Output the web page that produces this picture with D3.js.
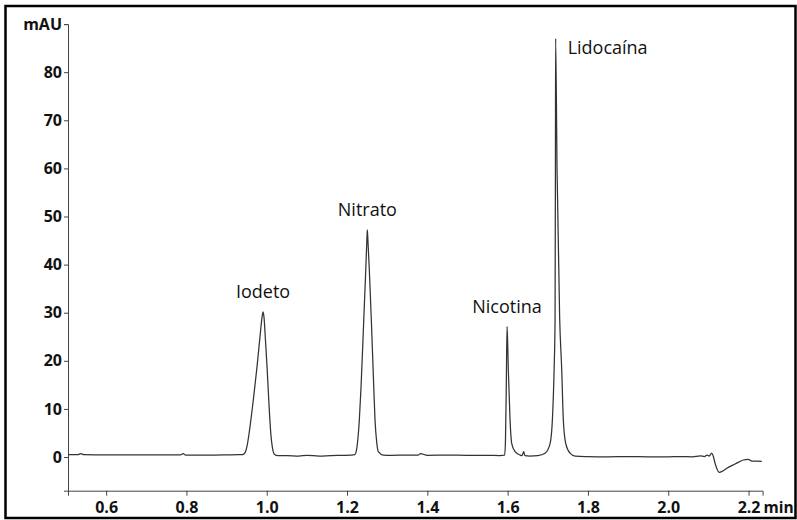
<!DOCTYPE html>
<html>
<head>
<meta charset="utf-8">
<script src="https://cdn.jsdelivr.net/npm/d3@7"></script>
<style>
  html, body { margin: 0; padding: 0; background: #fff; }
  svg { display: block; }
  .tick text { font-family: "Open Sans", "DejaVu Sans", sans-serif; font-weight: 700; font-size: 16px; fill: #111; }
  .peak-label { font-family: "Open Sans", "DejaVu Sans", sans-serif; font-size: 18px; fill: #111; }
</style>
</head>
<body>
<svg id="chart" width="797" height="520"></svg>
<script>
// Retention time (min) and detector signal (mAU) of the chromatogram trace
const time = [
  0.505, 0.530, 0.537, 0.544, 0.600, 0.700, 0.785, 0.792, 0.798, 0.850, 0.900, 0.930,
  0.940, 0.946, 0.951, 0.956, 0.9666, 0.9758, 0.984, 0.9885, 0.9908, 0.9935, 0.9958,
  1.0007, 1.005, 1.010, 1.014, 1.019, 1.028,
  1.050, 1.080, 1.100, 1.130, 1.160, 1.190, 1.210,
  1.2195, 1.2224, 1.2306, 1.2349, 1.2416, 1.2466, 1.2495, 1.2506, 1.2520, 1.2555,
  1.2605, 1.2665, 1.2697, 1.2740, 1.278, 1.2904,
  1.310, 1.350, 1.377, 1.383, 1.400, 1.450, 1.500, 1.550, 1.580, 1.5925,
  1.5945, 1.5965, 1.5985, 1.5998, 1.6017, 1.6060, 1.6102, 1.6185, 1.631, 1.636,
  1.640, 1.643, 1.655, 1.675, 1.6932, 1.7057, 1.7114, 1.7157, 1.7181, 1.7190,
  1.7195, 1.7230, 1.7295, 1.7347, 1.7387, 1.7447, 1.7554, 1.768,
  1.800, 1.850, 1.900, 1.950, 2.000, 2.030, 2.060, 2.080, 2.090, 2.097, 2.102,
  2.108, 2.112, 2.1166, 2.1273, 2.1357, 2.1457, 2.1664, 2.1871, 2.1996, 2.208,
  2.220, 2.233
];
const signal = [
  0.5, 0.5, 0.7, 0.5, 0.45, 0.45, 0.45, 0.7, 0.4, 0.4, 0.45, 0.5,
  0.5, 0.9, 2.3, 4.9, 11.9, 18.8, 25.7, 29.2, 30.2, 28.8, 25.7,
  18.8, 11.9, 5.0, 2.0, 0.6, 0.3,
  0.3, 0.2, 0.35, 0.2, 0.3, 0.35, 0.4,
  0.5, 1.0, 7.7, 14.6, 28.5, 38.9, 45.5, 47.2, 45.0, 38.9,
  28.5, 14.6, 7.7, 3.0, 1.1, 0.4,
  0.35, 0.4, 0.4, 0.7, 0.35, 0.4, 0.35, 0.35, 0.3, 0.4,
  3.0, 14.0, 27.1, 24.5, 18.1, 7.7, 2.8, 1.1, 0.4, 0.3,
  1.1, 0.3, 0.2, 0.3, 0.8, 2.8, 7.7, 18.1, 28.5, 60.0,
  87.0, 60.0, 29.0, 18.1, 7.7, 2.8, 0.8, 0.2,
  0.1, 0.05, 0.1, 0.05, 0.05, 0.1, 0.05, 0.25, 0.1, 0.4, 0.2,
  0.8, 0.2, -1.3, -3.2, -2.9, -2.35, -1.46, -0.62, -0.48, -0.83,
  -0.85, -0.9
];

// Peak annotations: compound name, retention time, apex height
const peakNames = ["Iodeto", "Nitrato", "Nicotina", "Lidocaína"];
const peakTimes = [0.9908, 1.2506, 1.5985, 1.7195];
const peakHeights = [30.2, 47.2, 27.1, 87.0];

// Axis ticks
const xTicks = [0.6, 0.8, 1.0, 1.2, 1.4, 1.6, 1.8, 2.0, 2.2];
const yTicks = [0, 10, 20, 30, 40, 50, 60, 70, 80, 90];
const xDomain = [0.505, 2.235];
const yDomain = [-7, 90];

const svg = d3.select("#chart");

// outer frame
svg.append("rect")
  .attr("x", 5.5).attr("y", 6)
  .attr("width", 790).attr("height", 512)
  .attr("fill", "#fff")
  .attr("stroke", "#000").attr("stroke-width", 2.5);

const x = d3.scaleLinear().domain(xDomain).range([68, 762.6]);
const y = d3.scaleLinear().domain(yDomain).range([490.7, 24.1]);

// minor ticks
const xMinor = d3.range(0.55, 2.2001, 0.05).filter(v => xTicks.every(t => Math.abs(t - v) > 1e-6));
const yMinor = d3.range(-6, 90, 2).filter(v => v % 10 !== 0);

const gx = svg.append("g").attr("transform", `translate(0,${y(yDomain[0])})`);
gx.call(d3.axisBottom(x).tickValues(xMinor).tickSize(3).tickFormat(""));
gx.call(d3.axisBottom(x).tickValues(xTicks).tickSize(5).tickPadding(6).tickFormat(d3.format(".1f")));
gx.selectAll(".domain").attr("stroke", "#444");
gx.selectAll(".tick line").attr("stroke", "#444");

const gy = svg.append("g").attr("transform", `translate(${x(xDomain[0])},0)`);
gy.call(d3.axisLeft(y).tickValues(yMinor).tickSize(2).tickFormat(""));
gy.call(d3.axisLeft(y).tickValues(yTicks).tickSize(4).tickPadding(2)
  .tickFormat(d => d === 90 ? "mAU" : d3.format("d")(d)));
gy.selectAll(".domain").attr("stroke", "#444");
gy.selectAll(".tick line").attr("stroke", "#444");

// unit label after the last x tick
svg.append("text")
  .attr("x", x(2.2) + 15)
  .attr("y", y(yDomain[0]) + 6 + 5)
  .attr("dy", "0.71em")
  .style("font-family", "\"Open Sans\", \"DejaVu Sans\", sans-serif")
  .style("font-weight", 700)
  .style("font-size", "15.5px")
  .attr("fill", "#111")
  .text("min");

// chromatogram trace
const pts = time.map((t, i) => [t, signal[i]]);
const line = d3.line()
  .x(d => x(d[0]))
  .y(d => y(d[1]))
  .curve(d3.curveMonotoneX);

svg.append("path")
  .datum(pts)
  .attr("d", line)
  .attr("fill", "none")
  .attr("stroke", "#333")
  .attr("stroke-width", 1.25)
  .attr("stroke-linejoin", "round");

// peak labels
peakNames.forEach((name, i) => {
  const last = i === peakNames.length - 1;
  svg.append("text")
    .attr("class", "peak-label")
    .attr("x", x(peakTimes[i]) + (last ? 12 : 0))
    .attr("y", y(peakHeights[i]) + (last ? 15 : -14))
    .attr("text-anchor", last ? "start" : "middle")
    .text(name);
});
</script>
</body>
</html>
